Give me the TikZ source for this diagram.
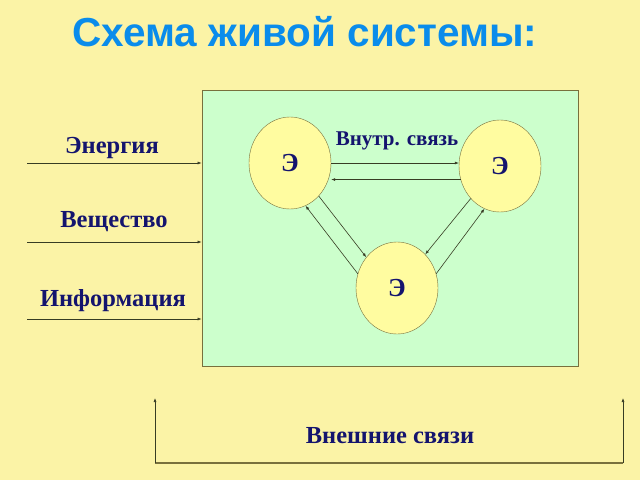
\documentclass[tikz,border=0pt]{standalone}
\usepackage{fontspec}
\setmainfont{Liberation Serif}
\newfontfamily\titlefont{Liberation Sans}
\usetikzlibrary{arrows.meta,shapes.geometric}
\definecolor{bgcol}{RGB}{251,243,166}
\definecolor{sysfill}{RGB}{204,255,204}
\definecolor{elfill}{RGB}{255,252,160}
\definecolor{navy}{RGB}{20,20,110}
\definecolor{titleblue}{RGB}{10,140,235}
\definecolor{linecol}{RGB}{55,60,35}
\definecolor{olive}{RGB}{120,112,60}
\tikzset{
  lbl/.style={font=\fontsize{24.5}{28}\selectfont\bfseries, text=navy, inner sep=0pt},
  elem/.style={ellipse, draw=olive, fill=elfill, minimum width=82pt, minimum height=92pt, inner sep=0pt, font=\fontsize{26}{30}\selectfont\bfseries, text=navy},
  conn/.style={draw=linecol, line width=0.6pt, -{Latex[length=4pt,width=3pt]}},
}
\begin{document}
\begin{tikzpicture}[x=1pt,y=-1pt]
\useasboundingbox (0,0) rectangle (640,480);
\fill[bgcol] (0,0) rectangle (640,480);
\node[font=\titlefont\fontsize{40.5}{46}\selectfont\bfseries, text=titleblue, inner sep=0pt] (title) at (305,32) {Схема живой системы:};
\node[draw=olive, fill=sysfill, line width=0.8pt, minimum width=376pt, minimum height=276pt, inner sep=0pt] (sys) at (390,228) {};
\node[elem] (e1) at (290,163) {Э};
\node[elem] (e2) at (500,166) {Э};
\node[elem] (e3) at (397,288) {Э};
\node[lbl, font=\fontsize{21}{24}\selectfont\bfseries] (inner) at (397,141) {Внутр. связь};
\draw[conn] (e1.east) -- (e1.east -| e2.west);
\draw[conn] (e2.199) -- (e2.199 -| e1.east);
\draw[conn] (e1.-49) -- (e3.135);
\draw[conn] (e3.160) -- (e1.-70);
\draw[conn] (e2.228) -- (e3.50);
\draw[conn] (e3.20) -- (e2.250);
\coordinate (in1) at (27,163);
\coordinate (in2) at (27,242);
\coordinate (in3) at (27,319);
\draw[conn] (in1) -- (in1 -| sys.west);
\draw[conn] (in2) -- (in2 -| sys.west);
\draw[conn] (in3) -- (in3 -| sys.west);
\node[lbl] (l1) at (112,148) {Энергия};
\node[lbl] (l2) at (114,222) {Вещество};
\node[lbl] (l3) at (113,301) {Информация};
\coordinate (b1) at (155,463);
\coordinate (b2) at (623,463);
\coordinate (t1) at (155,398);
\coordinate (t2) at (623,398);
\draw[draw=olive, line width=1.5pt] (b1) -- (b2);
\draw[conn] (b1) -- (t1);
\draw[conn] (b2) -- (t2);
\node[lbl] (ext) at (390,436) {Внешние связи};
\end{tikzpicture}
\end{document}
